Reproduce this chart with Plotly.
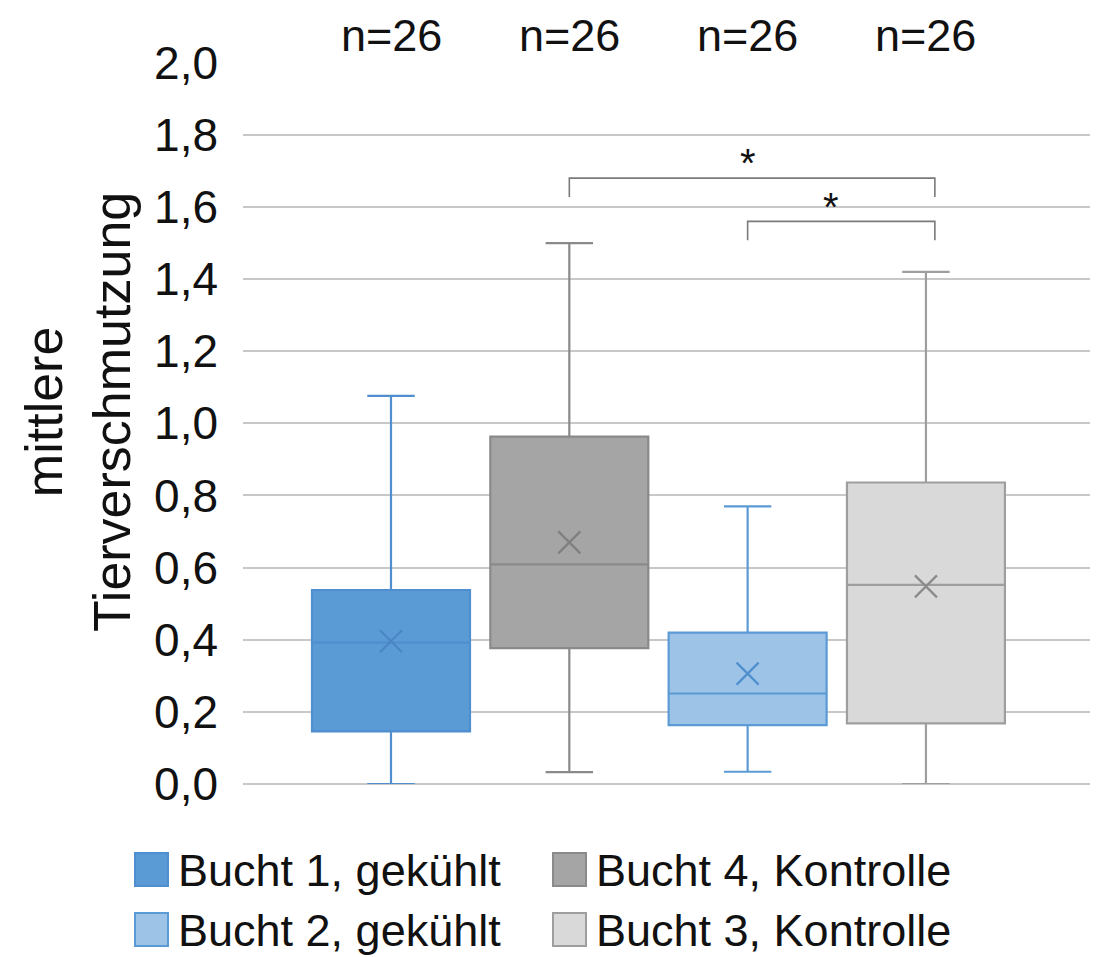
import plotly.graph_objects as go

# ---------------- data ----------------
names = ["Bucht 1, gekühlt", "Bucht 4, Kontrolle", "Bucht 2, gekühlt", "Bucht 3, Kontrolle"]
positions = [1, 2, 3, 4]
q1 = [0.146, 0.377, 0.163, 0.168]
median = [0.392, 0.609, 0.251, 0.552]
q3 = [0.538, 0.963, 0.420, 0.836]
lowerfence = [0.0, 0.033, 0.034, 0.0]
upperfence = [1.076, 1.500, 0.770, 1.420]
means = [0.396, 0.670, 0.306, 0.548]
n_labels = ["n=26", "n=26", "n=26", "n=26"]
y_ticks = [0.0, 0.2, 0.4, 0.6, 0.8, 1.0, 1.2, 1.4, 1.6, 1.8, 2.0]
# significance brackets: (left box, right box, bracket y, tick bottom y, star x, star y)
brackets = [(2, 4.05, 1.680, 1.628, 3.0, 1.722), (3, 4.05, 1.560, 1.508, 3.47, 1.600)]

fills = ["#5B9BD5", "#A5A5A5", "#9DC3E6", "#D9D9D9"]
lines = ["#4F8ECF", "#8A8A8A", "#5B9BD5", "#9E9E9E"]
xcols = ["#4A86C6", "#7F7F7F", "#4F8ECF", "#8A8A8A"]

FONT = "Liberation Sans, Arial, sans-serif"
OFF = 8  # page offset of the figure inside the browser window
W, H = 1104, 957
L, R, T, B = 235, 22, 54, 181
pw, ph = W - L - R, H - T - B

fig = go.Figure()
for i in range(4):
    fig.add_trace(go.Box(
        x=[positions[i]], q1=[q1[i]], median=[median[i]], q3=[q3[i]],
        lowerfence=[lowerfence[i]], upperfence=[upperfence[i]],
        name=names[i], width=0.886, whiskerwidth=0.3,
        fillcolor=fills[i], line=dict(color=lines[i], width=2.2),
        boxpoints=False, showlegend=False, hoverinfo="skip"))
    fig.add_trace(go.Scatter(
        x=[positions[i]], y=[means[i]], mode="markers",
        marker=dict(symbol="x-thin", size=22, line=dict(width=2.2, color=xcols[i])),
        showlegend=False, hoverinfo="skip"))


def px_x(p):
    return (p - OFF - L) / pw


def px_y(p):
    return (H - B - (p - OFF)) / ph


# n labels
for i in range(4):
    fig.add_annotation(x=positions[i], y=px_y(36), xref="x", yref="paper", text=n_labels[i],
                       showarrow=False, font=dict(size=45, color="#111", family=FONT),
                       xanchor="center", yanchor="middle")

# brackets
for (a, b, yb, yt, sx, sy) in brackets:
    fig.add_shape(type="path", xref="x", yref="y",
                  path=f"M {a},{yt} L {a},{yb} L {b},{yb} L {b},{yt}",
                  line=dict(color="#7A7A7A", width=1.6))
    fig.add_annotation(x=sx, y=sy, xref="x", yref="y", text="*", showarrow=False,
                       font=dict(size=40, color="#111", family=FONT),
                       xanchor="center", yanchor="middle")

# y title
fig.add_annotation(x=px_x(78), y=px_y(412), xref="paper", yref="paper",
                   text="mittlere<br>Tierverschmutzung", textangle=-90, showarrow=False,
                   font=dict(size=52, color="#111", family=FONT),
                   xanchor="center", yanchor="middle")

# manual legend (2 x 2)
leg_cols = [135, 553]
leg_rows = [870, 930]
order = [(0, 0, 0), (1, 0, 1), (2, 1, 0), (3, 1, 1)]
for idx, row, col in order:
    cx, cy = leg_cols[col], leg_rows[row]
    fig.add_shape(type="rect", xref="paper", yref="paper",
                  x0=px_x(cx), x1=px_x(cx + 33), y0=px_y(cy + 16), y1=px_y(cy - 17),
                  fillcolor=fills[idx], line=dict(color=lines[idx], width=2))
    fig.add_annotation(x=px_x(cx + 41), y=px_y(cy), xref="paper", yref="paper",
                       text=names[idx], showarrow=False, xanchor="left", yanchor="middle",
                       font=dict(size=45, color="#111", family=FONT))

fig.update_layout(
    width=W, height=H, margin=dict(l=L, r=R, t=T, b=B),
    plot_bgcolor="white", paper_bgcolor="white",
    boxmode="overlay", separators=", ",
    font=dict(family=FONT, color="#111"),
    xaxis=dict(range=[0.17, 4.92], showticklabels=False, showgrid=False, zeroline=False,
               showline=False, ticks=""),
    yaxis=dict(range=[0, 2.002], tickvals=y_ticks, tickformat=".1f", showgrid=True,
               gridcolor="#C8C8C8", gridwidth=2, zeroline=True, zerolinecolor="#C8C8C8",
               zerolinewidth=2, tickfont=dict(size=46, color="#111", family=FONT),
               ticklabelstandoff=24, showline=False),
)

fig.write_html("out.html")
